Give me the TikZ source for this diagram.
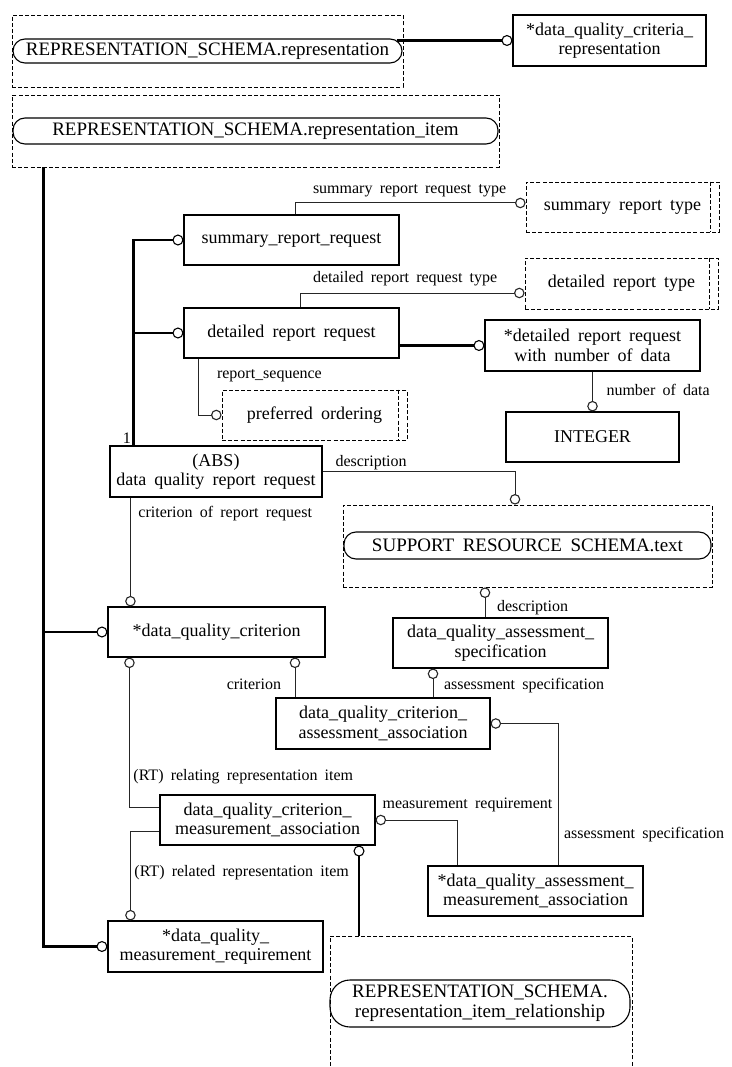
\documentclass[tikz,border=0pt]{standalone}
\usepackage{fontspec}
\setmainfont{Liberation Serif}
\newfontfamily\xgfont{Liberation Serif}[WordSpace=1.8]
\newcommand\boxfont{\xgfont\fontsize{18}{19.5}\selectfont}
\newcommand\lblfont{\xgfont\fontsize{16}{18}\selectfont}
\newcommand\schemafont{\xgfont\fontsize{19}{20}\selectfont}
\usetikzlibrary{arrows.meta}
\tikzset{
  entity/.style={draw, line width=1.1pt, align=center, inner sep=2pt, font=\boxfont, minimum height=50pt},
  deftype/.style={entity, line width=0.9pt, dash pattern=on 4pt off 2.2pt},
  frame/.style={draw, line width=0.9pt, dash pattern=on 4pt off 2.2pt, inner sep=0pt},
  schema/.style={draw, line width=1.1pt, rounded corners=12pt, align=center, inner sep=2pt, font=\schemafont},
  rel/.style={draw=black!85, line width=1pt, -{Circle[length=10.5pt,width=10.5pt,fill=white,line width=1.1pt]}},
  sub/.style={line width=2.8pt, -{Circle[length=11pt,width=11pt,fill=white,line width=1.1pt]}},
  lbl/.style={font=\lblfont, inner sep=1.5pt}
}

\begin{document}
\begin{tikzpicture}[x=1pt,y=-1pt]
  \fill[white] (0,0) rectangle (731,1067);
  \useasboundingbox (0,0) rectangle (731,1067);

  % referenced schemas at the top
  \node[frame, minimum width=391pt, minimum height=72pt] (repframe) at (207.5,51) {};
  \node[schema, minimum width=389pt, minimum height=24pt] (rep) at (207.5,51) {REPRESENTATION\_SCHEMA.representation};
  \node[entity, minimum width=193pt, minimum height=51pt] (dqcr) at (609.5,40.5) {*data\_quality\_criteria\_\\representation};
  \node[frame, minimum width=487pt, minimum height=72pt] (itemframe) at (255.5,131) {};
  \node[schema, minimum width=485pt, minimum height=26pt] (item) at (255.5,131) {REPRESENTATION\_SCHEMA.representation\_item};

  % report requests
  \node[deftype, minimum width=193pt] (srt) at (622.5,207) {summary report type};
  \node[entity, minimum width=215pt] (srr) at (291.5,240) {summary\_report\_request};
  \node[deftype, minimum width=193pt, minimum height=51pt] (drt) at (621.5,283.5) {detailed report type};
  \node[entity, minimum width=215pt] (drr) at (291.5,333) {detailed report request};
  \node[entity, minimum width=215pt, minimum height=51pt] (drn) at (592.5,345.5) {*detailed report request\\with number of data};
  \node[deftype, minimum width=185pt] (pref) at (314.5,415) {preferred ordering};
  \node[entity, minimum width=173pt] (int) at (592.5,437) {INTEGER};
  \foreach \t in {srt,drt,pref}
    \draw[frame] ([xshift=-9pt]\t.north east) -- ([xshift=-9pt]\t.south east);
  \node[entity, minimum width=212pt, minimum height=51pt] (abs) at (216,471.5) {(ABS)\\data quality report request};
  \node[frame, minimum width=369pt, minimum height=82pt] (supframe) at (527.5,546) {};
  \node[schema, minimum width=367pt, minimum height=27pt] (sup) at (527.5,545.5) {SUPPORT RESOURCE SCHEMA.text};

  % criteria and associations
  \node[entity, minimum width=217pt] (dqc) at (216.5,632) {*data\_quality\_criterion};
  \node[entity, minimum width=215pt] (dqas) at (500.5,643) {data\_quality\_assessment\_\\specification};
  \node[entity, minimum width=214pt, minimum height=51pt] (dqcaa) at (383,723.5) {data\_quality\_criterion\_\\assessment\_association};
  \node[entity, minimum width=215pt] (dqcma) at (267.5,820) {data\_quality\_criterion\_\\measurement\_association};
  \node[entity, minimum width=215pt] (dqama) at (535.5,891) {*data\_quality\_assessment\_\\measurement\_association};
  \node[entity, minimum width=215pt, minimum height=51pt] (dqmr) at (215.5,946.5) {*data\_quality\_\\measurement\_requirement};
  \node[frame, minimum width=302pt, minimum height=150pt] (relframe) at (481,1011) {};
  \node[schema, minimum width=300pt, minimum height=47pt, rounded corners=20pt] (relitem) at (480,1003.5) {REPRESENTATION\_SCHEMA.\\representation\_item\_relationship};

  % subtype lines
  \draw[sub] ([xshift=-6pt]rep.east |- dqcr.west) -- (dqcr.west);
  \draw[sub] ([xshift=32pt]itemframe.south west) |- (dqmr.west);
  \draw[sub] ([xshift=32pt]itemframe.south west |- dqc.west) -- (dqc.west);
  \draw[sub] ([xshift=24pt]abs.north west) |- (srr.west);
  \draw[sub] ([xshift=24pt]abs.north west |- drr.west) -- (drr.west);
  \node[lbl, anchor=south east] (oneof) at ([xshift=23pt]abs.north west) {1};
  \draw[sub] (drr.east |- drn.west) -- (drn.west);
  \draw[sub] ([xshift=91.5pt]dqcma.south |- relframe.north) -- ([xshift=91.5pt]dqcma.south);

  % attributes
  \draw[rel] ([xshift=3.5pt]srr.north) |- node[lbl, pos=0.5, anchor=south west, xshift=16pt, yshift=4pt] (srtlbl) {summary report request type} ([yshift=4pt]srt.west);
  \draw[rel] ([xshift=8.5pt]drr.north) |- node[lbl, pos=0.5, anchor=south west, xshift=11pt, yshift=5pt] (drtlbl) {detailed report request type} ([yshift=-9.5pt]drt.west);
  \draw[rel] ([xshift=-93.5pt]drr.south) |- node[lbl, pos=0.15, anchor=west, xshift=17pt] (seqlbl) {report\_sequence} (pref.west);
  \draw[rel] (drn.south) -- node[lbl, pos=0.45, anchor=west, xshift=12pt] (numlbl) {number of data} (int.north);
  \draw[rel] (abs.east) -| node[lbl, pos=0, anchor=south west, xshift=11pt] (desclbl) {description} ([xshift=-12.5pt]supframe.north);
  \draw[rel] ([xshift=21pt]abs.south west) -- node[lbl, pos=0.15, anchor=west, xshift=6pt] (critlbl) {criterion of report request} ([xshift=23pt]dqc.north west);
  \draw[rel] ([xshift=-15.5pt]dqas.north) -- node[lbl, pos=0.32, anchor=west, xshift=10pt] (ddesclbl) {description} ([xshift=-15.5pt]dqas.north |- supframe.south);
  \draw[rel] ([xshift=-88pt]dqcaa.north) -- node[lbl, pos=0.34, anchor=east, xshift=-12pt] (clbl) {criterion} ([xshift=-88pt]dqcaa.north |- dqc.south);
  \draw[rel] ([xshift=50pt]dqcaa.north) -- node[lbl, pos=0.4, anchor=west, xshift=9pt] (aslbl) {assessment specification} ([xshift=50pt]dqcaa.north |- dqas.south);
  \draw[rel] ([xshift=22.5pt]dqama.north) |- node[lbl, pos=0.11, anchor=west, xshift=4pt] (as2lbl) {assessment specification} (dqcaa.east);
  \draw[rel] ([xshift=-78.5pt]dqama.north) |- node[lbl, pos=1, anchor=south west, xshift=5pt, yshift=6pt] (mrlbl) {measurement requirement} (dqcma.east);
  \draw[rel] ([yshift=13pt]dqcma.west) -| node[lbl, pos=0.6, anchor=west, xshift=2pt] (rtlbl) {(RT) relating representation item} ([xshift=22pt]dqc.south west);
  \draw[rel] ([yshift=-11pt]dqcma.west) -| node[lbl, pos=0.73, anchor=west, xshift=2pt] (rt2lbl) {(RT) related representation item} ([xshift=23pt]dqmr.north west);
\end{tikzpicture}
\end{document}
